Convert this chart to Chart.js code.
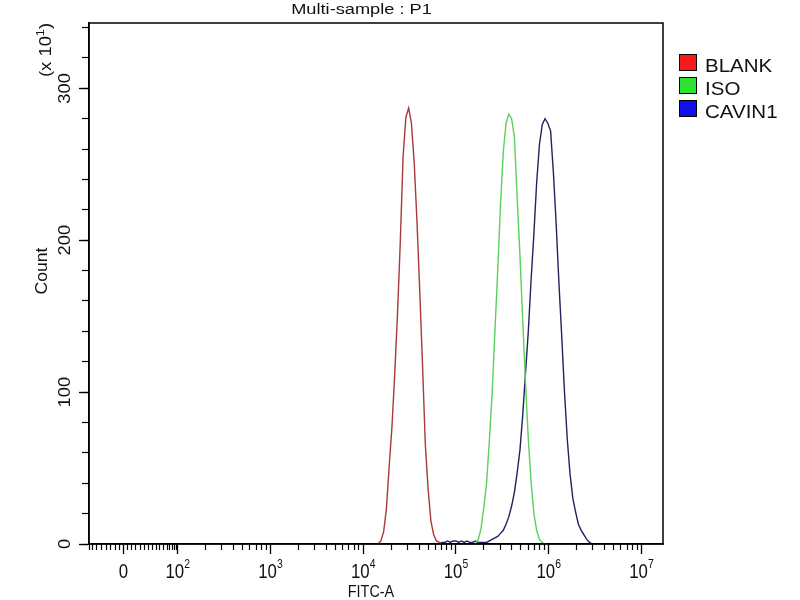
<!DOCTYPE html>
<html>
<head>
<meta charset="utf-8">
<title>Multi-sample : P1</title>
<script src="https://cdn.jsdelivr.net/npm/chart.js@4.4.1/dist/chart.umd.min.js"></script>
<style>
  html, body { margin: 0; padding: 0; background: #fff; }
  canvas { display: block; }
</style>
</head>
<body>
<canvas id="histChart" width="800" height="600"></canvas>
<script>
// FITC-A channel positions are in decades (4 = 10^4), counts are in units of 10
const plotTitle = "Multi-sample : P1";
const sampleNames = ["BLANK", "ISO", "CAVIN1"];

const blankChannels = [4.16, 4.19, 4.22, 4.25, 4.28, 4.31, 4.34, 4.37, 4.40, 4.43, 4.46, 4.49,
  4.52, 4.55, 4.58, 4.61, 4.64, 4.67, 4.70, 4.73, 4.76, 4.79, 4.82, 4.85];
const blankCounts = [0, 2, 8, 23, 51, 77, 112, 152, 199, 255, 281, 287,
  277, 251, 212, 166, 117, 65, 36, 15, 6, 2, 1, 0];

const isoChannels = [5.21, 5.24, 5.27, 5.30, 5.33, 5.36, 5.39, 5.42, 5.45, 5.48, 5.51, 5.54, 5.57,
  5.60, 5.63, 5.66, 5.69, 5.72, 5.75, 5.78, 5.81, 5.84, 5.87, 5.90, 5.93, 5.96];
const isoCounts = [0, 3, 10, 24, 40, 68, 99, 140, 180, 223, 258, 277, 283,
  280, 268, 228, 190, 147, 106, 69, 41, 20, 9, 3, 1, 0];

const cavinChannels = [4.82, 4.85, 4.88, 4.91, 4.94, 4.97, 5.00, 5.03, 5.06, 5.09,
  5.12, 5.15, 5.18, 5.21, 5.24, 5.27, 5.30, 5.33, 5.36, 5.39,
  5.42, 5.45, 5.48, 5.51, 5.54, 5.57, 5.60, 5.63, 5.66, 5.69,
  5.72, 5.75, 5.78, 5.81, 5.84, 5.87, 5.90, 5.93, 5.96, 5.99,
  6.02, 6.05, 6.08, 6.11, 6.14, 6.17, 6.20, 6.23, 6.26, 6.29,
  6.32, 6.35, 6.38, 6.41, 6.44, 6.47];
const cavinCounts = [0, 1, 1, 2, 1, 2, 2, 1, 2, 1,
  2, 1, 1, 2, 1, 1, 1, 1, 2, 3,
  4, 5, 7, 9, 13, 18, 25, 34, 47, 62,
  85, 113, 140, 174, 204, 238, 263, 276, 280, 277,
  272, 245, 211, 172, 137, 100, 69, 46, 30, 21,
  13, 9, 6, 3, 1, 0];

// axis range and ticks (x in decades, biexponential zone below 10^2)
const xMin = 1.044, xMax = 7.232;
const yMin = 0, yMax = 343;
const xTickValues = [1.414, 2, 3, 4, 5, 6, 7];
const xTickBase = ["0", "10", "10", "10", "10", "10", "10"];
const xTickExp = ["", "2", "3", "4", "5", "6", "7"];
const xLinearMinorTicks = [1.044, 1.08, 1.13, 1.18, 1.23, 1.28, 1.33, 1.37,
  1.461, 1.504, 1.547, 1.594, 1.637, 1.683, 1.731, 1.774, 1.809, 1.852, 1.888, 1.917, 1.942, 1.963, 1.983];

const FONT = "'Liberation Sans', Arial, sans-serif";

function toPoints(channels, counts) {
  return channels.map((x, i) => ({ x, y: counts[i] }));
}

function logMinorTicks() {
  const out = [];
  for (let decade = 2; decade < 7; decade++) {
    for (let k = 2; k <= 9; k++) out.push(decade + Math.log10(k));
  }
  return out;
}

// draws text made of parts (base + superscript), centred or left aligned, optionally rotated
function drawRich(ctx, x, y, angle, parts, sx, align) {
  ctx.save();
  ctx.translate(x, y);
  ctx.rotate(angle);
  ctx.scale(sx, 1);
  ctx.textAlign = "left";
  ctx.textBaseline = "alphabetic";
  let total = 0;
  parts.forEach(p => {
    ctx.font = p.size + "px " + FONT;
    p.w = ctx.measureText(p.text).width;
    total += p.w;
  });
  let cx = align === "left" ? 0 : -total / 2;
  parts.forEach(p => {
    ctx.font = p.size + "px " + FONT;
    ctx.fillText(p.text, cx, p.dy || 0);
    cx += p.w;
  });
  ctx.restore();
}

const facsText = {
  id: "facsText",
  afterDraw(chart) {
    const ctx = chart.ctx;
    const area = chart.chartArea;
    const xs = chart.scales.x;
    const ys = chart.scales.y;

    ctx.save();
    ctx.strokeStyle = "#000";
    ctx.lineWidth = 1.5;
    ctx.strokeRect(area.left, area.top, area.right - area.left, area.bottom - area.top);

    ctx.fillStyle = "#111";
    drawRich(ctx, 361.5, 13.5, 0, [{ text: plotTitle, size: 14 }], 1.3);

    xs.ticks.forEach((t, i) => {
      const parts = [{ text: xTickBase[i], size: 21 }];
      if (xTickExp[i]) parts.push({ text: xTickExp[i], size: 13, dy: -10 });
      drawRich(ctx, xs.getPixelForValue(t.value), 578, 0, parts, 0.8);
    });
    drawRich(ctx, 371, 597, 0, [{ text: "FITC-A", size: 16 }], 0.9);

    ys.ticks.forEach(t => {
      drawRich(ctx, 70, ys.getPixelForValue(t.value), -Math.PI / 2,
        [{ text: String(t.value), size: 17 }], 1.08);
    });
    drawRich(ctx, 47, 271, -Math.PI / 2, [{ text: "Count", size: 16 }], 1.1);
    drawRich(ctx, 51, 50, -Math.PI / 2,
      [{ text: "(x 10", size: 16 }, { text: "1", size: 11, dy: -7 }, { text: ")", size: 16 }], 1.15);

    // legend
    chart.data.datasets.forEach((ds, i) => {
      const top = 54 + i * 23;
      ctx.fillStyle = ds.backgroundColor;
      ctx.fillRect(679, top, 18, 17);
      ctx.strokeStyle = "#000";
      ctx.lineWidth = 1;
      ctx.strokeRect(679.5, top + 0.5, 17, 16);
      ctx.fillStyle = "#111";
      drawRich(ctx, 705, top + 18, 0, [{ text: ds.label, size: 19 }], 1.08, "left");
    });
    ctx.restore();
  }
};

function makeDataset(label, points, lineColor, swatchColor) {
  return {
    label,
    data: points,
    borderColor: lineColor,
    backgroundColor: swatchColor,
    borderWidth: 1.4,
    pointRadius: 0,
    fill: false,
    tension: 0
  };
}

const ctx = document.getElementById("histChart").getContext("2d");
new Chart(ctx, {
  type: "line",
  data: {
    datasets: [
      makeDataset(sampleNames[0], toPoints(blankChannels, blankCounts), "#a83a3a", "#f41c1c"),
      makeDataset(sampleNames[1], toPoints(isoChannels, isoCounts), "#5ccf5c", "#2ee42e"),
      makeDataset(sampleNames[2], toPoints(cavinChannels, cavinCounts), "#22225e", "#1010ee")
    ]
  },
  options: {
    responsive: false,
    animation: false,
    layout: { padding: { left: 0, right: 137, top: 23, bottom: 0 } },
    plugins: {
      legend: { display: false },
      title: { display: false },
      tooltip: { enabled: false }
    },
    scales: {
      xm: {
        type: "linear", position: "bottom", weight: 0, min: xMin, max: xMax,
        border: { display: false },
        grid: { drawOnChartArea: false, drawTicks: true, tickLength: 6, tickColor: "#000", tickWidth: 1.2 },
        ticks: { display: false },
        afterBuildTicks: s => { s.ticks = xLinearMinorTicks.concat(logMinorTicks()).map(v => ({ value: v })); },
        afterFit: s => { s.height = 0; }
      },
      x: {
        type: "linear", position: "bottom", weight: 1, min: xMin, max: xMax,
        border: { display: true, color: "#000", width: 1.5 },
        grid: { drawOnChartArea: false, drawTicks: true, tickLength: 10, tickColor: "#000", tickWidth: 1.3 },
        ticks: { display: false },
        afterBuildTicks: s => { s.ticks = xTickValues.map(v => ({ value: v })); },
        afterFit: s => { s.height = 56; }
      },
      ym: {
        type: "linear", position: "left", weight: 0, min: yMin, max: yMax,
        border: { display: false },
        grid: { drawOnChartArea: false, drawTicks: true, tickLength: 7, tickColor: "#000", tickWidth: 1.2 },
        ticks: { display: false, stepSize: 20, includeBounds: false },
        afterFit: s => { s.width = 0; }
      },
      y: {
        type: "linear", position: "left", weight: 1, min: yMin, max: yMax,
        border: { display: true, color: "#000", width: 1.5 },
        grid: { drawOnChartArea: false, drawTicks: true, tickLength: 10, tickColor: "#000", tickWidth: 1.3 },
        ticks: { display: false, stepSize: 100, includeBounds: false },
        afterFit: s => { s.width = 89; }
      }
    }
  },
  plugins: [facsText]
});
</script>
</body>
</html>
